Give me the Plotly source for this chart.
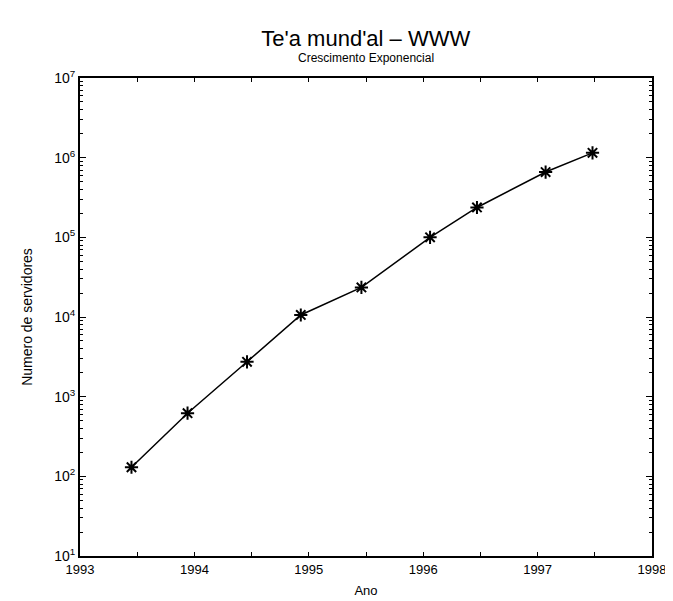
import plotly.graph_objects as go

# dados
anos = [1993.45, 1993.94, 1994.46, 1994.93, 1995.46, 1996.06, 1996.47, 1997.07, 1997.48]
servidores = [130, 620, 2740, 10600, 23500, 100000, 237000, 660000, 1150000]

x_ticks = [1993, 1994, 1995, 1996, 1997, 1998]
x_labels = ["1993", "1994", "1995", "1996", "1997", "1998"]
y_ticks = [1e1, 1e2, 1e3, 1e4, 1e5, 1e6, 1e7]
y_labels = ["10<sup>1</sup>", "10<sup>2</sup>", "10<sup>3</sup>", "10<sup>4</sup>",
            "10<sup>5</sup>", "10<sup>6</sup>", "10<sup>7</sup>"]

fonte = "Liberation Sans, Arial, sans-serif"

fig = go.Figure()
fig.add_trace(go.Scatter(
    x=anos,
    y=servidores,
    mode="lines+markers",
    line=dict(color="black", width=1.5),
    marker=dict(symbol="asterisk-open", size=11, color="black",
                line=dict(color="black", width=2)),
    showlegend=False,
))

# a pagina tem margem de 8px no body, entao a figura fica um pouco menor
fig.update_layout(
    width=665,
    height=593,
    margin=dict(l=72, r=21, t=70, b=45),
    plot_bgcolor="white",
    paper_bgcolor="white",
    font=dict(family=fonte, color="black", size=12),
    title=dict(text="Te'a mund'al – WWW", x=0.538, xanchor="center",
               y=0.949, yanchor="middle", font=dict(size=22)),
    annotations=[dict(text="Crescimento Exponencial", xref="paper", yref="paper",
                      x=0.5, y=1.0, yshift=20, showarrow=False,
                      xanchor="center", yanchor="middle", font=dict(size=12))],
)

fig.update_xaxes(
    range=[1993, 1998],
    tickvals=x_ticks,
    ticktext=x_labels,
    ticks="inside",
    ticklen=4,
    tickcolor="black",
    showline=True,
    linecolor="black",
    linewidth=2,
    mirror="ticks",
    showgrid=False,
    zeroline=False,
    automargin=False,
    tickfont=dict(size=13),
    minor=dict(dtick=0.5, ticks="inside", ticklen=4, tickcolor="black", showgrid=False),
    title=dict(text="Ano", font=dict(size=13), standoff=10),
)

fig.update_yaxes(
    type="log",
    range=[1, 7],
    tickvals=y_ticks,
    ticktext=y_labels,
    ticks="inside",
    ticklen=6,
    tickcolor="black",
    showline=True,
    linecolor="black",
    linewidth=2,
    mirror="ticks",
    showgrid=False,
    zeroline=False,
    automargin=False,
    tickfont=dict(size=14),
    minor=dict(dtick="D1", ticks="inside", ticklen=3, tickcolor="black", showgrid=False),
    title=dict(text="Numero de servidores", font=dict(size=14), standoff=18),
)

fig.write_html("out.html")
